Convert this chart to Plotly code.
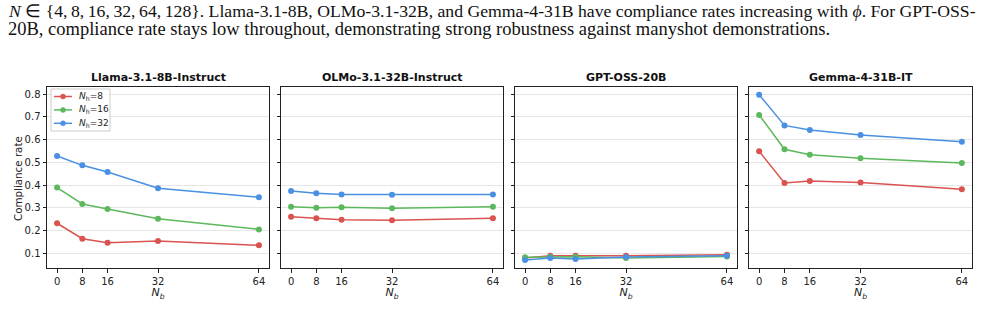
import plotly.graph_objects as go

nb = [0, 8, 16, 32, 64]
models = ["Llama-3.1-8B-Instruct", "OLMo-3.1-32B-Instruct", "GPT-OSS-20B", "Gemma-4-31B-IT"]
series_names = ["<i>N</i><sub>h</sub>=8", "<i>N</i><sub>h</sub>=16", "<i>N</i><sub>h</sub>=32"]
colors = ["#d9534f", "#5cb85c", "#4a90e2"]
yticks = [0.1, 0.2, 0.3, 0.4, 0.5, 0.6, 0.7, 0.8]

llama_nh8 = [0.232, 0.164, 0.146, 0.154, 0.135]
llama_nh16 = [0.389, 0.317, 0.295, 0.252, 0.205]
llama_nh32 = [0.528, 0.487, 0.458, 0.386, 0.346]

olmo_nh8 = [0.261, 0.254, 0.248, 0.245, 0.254]
olmo_nh16 = [0.305, 0.300, 0.303, 0.298, 0.305]
olmo_nh32 = [0.374, 0.364, 0.359, 0.358, 0.359]

gpt_nh8 = [0.079, 0.089, 0.089, 0.089, 0.093]
gpt_nh16 = [0.082, 0.085, 0.085, 0.079, 0.086]
gpt_nh32 = [0.070, 0.079, 0.075, 0.083, 0.089]

gemma_nh8 = [0.549, 0.409, 0.418, 0.412, 0.382]
gemma_nh16 = [0.709, 0.558, 0.534, 0.518, 0.497]
gemma_nh32 = [0.798, 0.663, 0.643, 0.621, 0.591]

data = [
    [llama_nh8, llama_nh16, llama_nh32],
    [olmo_nh8, olmo_nh16, olmo_nh32],
    [gpt_nh8, gpt_nh16, gpt_nh32],
    [gemma_nh8, gemma_nh16, gemma_nh32],
]

W, H = 987, 320
panels_px = [(47, 269), (281, 503), (515, 737), (749, 972)]
ytop_px, ybot_px = 87, 268
ydom = [1 - ybot_px / H, 1 - ytop_px / H]


def px_x(x):
    return x / W


def px_y(y):
    return 1 - y / H


FONT = "DejaVu Sans"
fig = go.Figure()
layout = dict(
    width=W, height=H, margin=dict(l=0, r=0, t=0, b=0),
    paper_bgcolor="white", plot_bgcolor="white",
    font=dict(family=FONT, size=10, color="#222"),
    showlegend=False,
)
annotations = []
shapes = []
for i, (model, panel) in enumerate(zip(models, data)):
    ax = "" if i == 0 else str(i + 1)
    for j, vals in enumerate(panel):
        fig.add_trace(go.Scatter(
            x=nb, y=vals, mode="lines+markers", name=series_names[j],
            line=dict(color=colors[j], width=1.5),
            marker=dict(color=colors[j], size=6),
            xaxis="x" + ax, yaxis="y" + ax,
        ))
    x0, x1 = panels_px[i]
    layout["xaxis" + ax] = dict(
        domain=[px_x(x0), px_x(x1)], range=[-3.2, 67.2], anchor="y" + ax,
        tickvals=nb, ticktext=[str(v) for v in nb], ticks="outside", ticklen=3.5,
        tickcolor="#222", showgrid=False, zeroline=False,
        showline=True, linecolor="#222", linewidth=1, mirror=True,
        tickfont=dict(size=10, family=FONT),
        title=dict(text="<i>N<sub>b</sub></i>", font=dict(size=11, family=FONT), standoff=0),
    )
    yax = dict(
        domain=ydom, range=[0.035, 0.832], anchor="x" + ax,
        tickvals=yticks, ticktext=["%.1f" % v for v in yticks],
        showticklabels=(i == 0),
        ticks="outside", ticklen=3.5, tickcolor="#222",
        showgrid=True, gridcolor="#e6e6e6", gridwidth=1, zeroline=False,
        showline=True, linecolor="#222", linewidth=1, mirror=True,
        tickfont=dict(size=10, family=FONT),
    )
    layout["yaxis" + ax] = yax
    annotations.append(dict(
        text="<b>%s</b>" % model, x=px_x((x0 + x1) / 2), y=px_y(77),
        xref="paper", yref="paper", xanchor="center", yanchor="middle",
        showarrow=False, font=dict(size=11, family=FONT, color="#111"),
    ))

annotations.append(dict(
    text="Compliance rate", x=px_x(18), y=px_y(179), xref="paper", yref="paper",
    xanchor="center", yanchor="middle", textangle=-90, showarrow=False,
    font=dict(size=10.3, family=FONT, color="#222"),
))

# compact legend drawn inside the first panel
shapes.append(dict(type="rect", xref="paper", yref="paper",
                   x0=px_x(51), x1=px_x(110), y0=px_y(131), y1=px_y(89),
                   line=dict(color="#cccccc", width=1), fillcolor="rgba(255,255,255,0.85)",
                   layer="above"))
for j, name in enumerate(series_names):
    yc = 96.5 + 13.4 * j
    shapes.append(dict(type="line", xref="paper", yref="paper",
                       x0=px_x(54), x1=px_x(72), y0=px_y(yc), y1=px_y(yc),
                       line=dict(color=colors[j], width=1.5), layer="above"))
    shapes.append(dict(type="circle", xref="paper", yref="paper",
                       x0=px_x(60.5), x1=px_x(65.5), y0=px_y(yc + 2.5), y1=px_y(yc - 2.5),
                       line=dict(color=colors[j], width=0.5), fillcolor=colors[j], layer="above"))
    annotations.append(dict(
        text=name, x=px_x(77), y=px_y(yc), xref="paper", yref="paper",
        xanchor="left", yanchor="middle", showarrow=False,
        font=dict(size=9, family=FONT, color="#222"),
    ))

line1 = ("<i>N</i> ∈ {4,\u20098,\u200916,\u200932,\u200964,\u2009128}. Llama-3.1-8B, OLMo-3.1-32B, and Gemma-4-31B have "
         "compliance rates increasing with <i>ϕ</i>. For GPT-OSS-")
line2 = ("20B, compliance rate stays low throughout, demonstrating strong robustness against "
         "manyshot demonstrations.")
for t, yc, fs in [(line1, 10.5, 17.7), (line2, 29.3, 18.5)]:
    annotations.append(dict(
        text=t, x=px_x(6), y=px_y(yc), xref="paper", yref="paper",
        xanchor="left", yanchor="middle", showarrow=False,
        font=dict(size=fs, family="Liberation Serif", color="#111"),
    ))
layout["annotations"] = annotations
layout["shapes"] = shapes
fig.update_layout(**layout)
fig.write_html("out.html")
